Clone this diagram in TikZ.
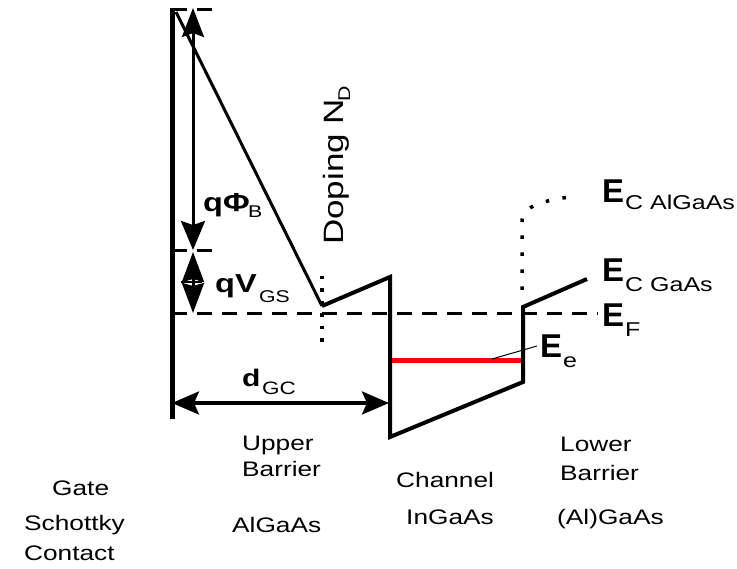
\documentclass[tikz,border=0pt]{standalone}
\usepackage{fontspec}
\setmainfont{Liberation Sans}[FakeStretch=1.25]
\newfontfamily\efont{Liberation Sans}
\usetikzlibrary{arrows.meta}
\begin{document}
\begin{tikzpicture}[x=1pt,y=-1pt,
  band/.style={line width=4pt, line join=miter},
  slope/.style={line width=3pt},
  dashline/.style={line width=3pt, dash pattern=on 15pt off 10pt},
  dotline/.style={line width=3.5pt, dash pattern=on 3.5pt off 9pt},
  dotcurve/.style={line width=3.5pt, dash pattern=on 3.5pt off 13.5pt},
  dimarrow/.style={line width=3.5pt, {Stealth[length=27pt,width=23pt,inset=5pt]}-{Stealth[length=27pt,width=23pt,inset=5pt]}},
  lbl/.style={inner sep=0pt, anchor=base west, font=\fontsize{21}{21}\selectfont},
  bigE/.style={inner sep=0pt, anchor=base west, font=\efont\bfseries\fontsize{33}{33}\selectfont},
  bigq/.style={inner sep=0pt, anchor=base west, font=\bfseries\fontsize{26}{26}\selectfont},
  subl/.style={inner sep=0pt, anchor=base west, font=\fontsize{18}{18}\selectfont},
]
\useasboundingbox (0,0) rectangle (737,569);

% coordinates of the band edges
\coordinate (gtop) at (172,8);
\coordinate (gbot) at (172,419);
\coordinate (s0) at (176,12);
\coordinate (s1) at (322,306);
\coordinate (s2) at (390,277);
\coordinate (s3) at (390,437);
\coordinate (s4) at (523,382);
\coordinate (s5) at (523,307);
\coordinate (s6) at (587,279);

% Fermi level and reference dashes
\coordinate (fl) at (172,314);
\coordinate (fr) at (598,314);
\draw[dashline] (fl) -- (fr);
\coordinate (t0) at (172,10);
\coordinate (t1) at (215,10);
\draw[dashline] (t0) -- (t1);
\coordinate (m0) at (172,251);
\coordinate (m1) at (215,251);
\draw[dashline] (m0) -- (m1);

% doping dotted line
\coordinate (d0) at (322,276);
\coordinate (d1) at (322,350);
\draw[dotline] (d0) -- (d1);

% AlGaAs dotted conduction band
\coordinate (c0) at (522,290);
\coordinate (c1) at (522,222);
\coordinate (c2) at (577,196);
\draw[dotcurve] (c0) -- (c1) .. controls (522,205) and (545,200) .. (c2);

% red subband level
\coordinate (r0) at (390,361);
\coordinate (r1) at (523,361);
\draw[red, line width=5pt] (r0) -- (r1);

% gate and bands
\draw[line width=5pt] (gtop) -- (gbot);
\draw[slope] (s0) -- (s1);
\draw[band] (s1) -- (s2) -- (s3) -- (s4) -- (s5) -- (s6);

% dimension arrows
\coordinate (a0) at (193,8);
\coordinate (a1) at (193,250);
\draw[line width=3pt, {Stealth[length=29pt,width=22pt,inset=4pt]}-{Stealth[length=29pt,width=24pt,inset=4pt]}] (a0) -- (a1);
\coordinate (v0) at (193,252);
\coordinate (v1) at (193,313);
\draw[line width=3pt, {Stealth[length=30pt,width=22pt,inset=3pt]}-{Stealth[length=30pt,width=22pt,inset=3pt]}] (v0) -- (v1);
\coordinate (vb0) at (181,282);
\coordinate (vb1) at (202,282);
\draw[line width=2pt] (vb0) -- (vb1);
\coordinate (g0) at (172,403);
\coordinate (g1) at (389,403);
\draw[dimarrow] (g0) -- (g1);

% E_e leader
\coordinate (e0) at (492,359);
\coordinate (e1) at (537,346);
\draw[line width=1pt] (e0) -- (e1);

% labels
\node[bigq] (qphi) at (203,212) {qΦ};
\node[subl, font=\fontsize{17}{17}\selectfont] (qphiB) at (248,218) {B};
\node[bigq] (qv) at (215,293) {qV};
\node[subl, font=\fontsize{17}{17}\selectfont] (qvGS) at (259,303) {GS};
\node[bigq, font=\bfseries\fontsize{24}{24}\selectfont] (dgc) at (242,387) {d};
\node[subl] (dgcGC) at (262,395) {GC};
\node[lbl, rotate=90, font=\fontsize{28}{28}\selectfont] (dop) at (343,245) {Doping N};
\node[lbl, rotate=90, font=\fontsize{17}{17}\selectfont] (dopD) at (350,102) {D};

\node[bigE] (ec1) at (602,203) {E};
\node[subl, font=\fontsize{20}{20}\selectfont] (ec1s) at (625,210) {C AlGaAs};
\node[bigE] (ec2) at (602,282) {E};
\node[subl, font=\fontsize{20}{20}\selectfont] (ec2s) at (625,292) {C GaAs};
\node[bigE] (ef) at (602,327) {E};
\node[subl, font=\fontsize{20}{20}\selectfont] (efs) at (625,337) {F};
\node[bigE] (ee) at (540,358) {E};
\node[subl, font=\fontsize{20}{20}\selectfont] (ees) at (563,368) {e};

\node[lbl] (upper) at (242,450) {Upper};
\node[lbl] (ubar) at (242,477) {Barrier};
\node[lbl] (ualgaas) at (232,532) {AlGaAs};
\node[lbl] (gate) at (52,495) {Gate};
\node[lbl] (schottky) at (24,530) {Schottky};
\node[lbl] (contact) at (24,560) {Contact};
\node[lbl] (channel) at (396,488) {Channel};
\node[lbl] (ingaas) at (406,525) {InGaAs};
\node[lbl] (lower) at (560,452) {Lower};
\node[lbl] (lbar) at (560,480) {Barrier};
\node[lbl] (lalgaas) at (557,525) {(Al)GaAs};
\end{tikzpicture}
\end{document}
